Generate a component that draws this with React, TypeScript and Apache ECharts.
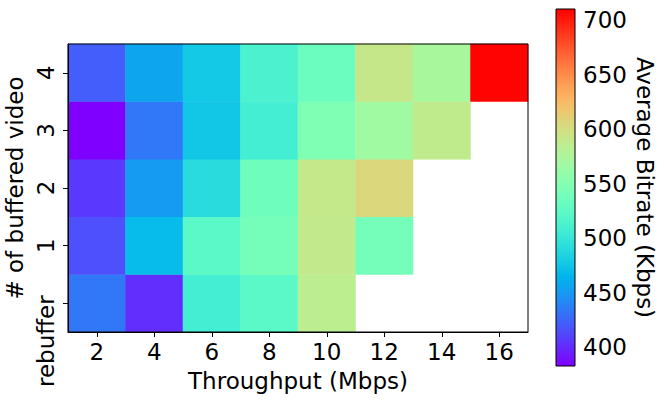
import React, { useEffect, useRef } from "react";
import * as echarts from "echarts";

const xCategories = ["2", "4", "6", "8", "10", "12", "14", "16"];
const yCategories = ["rebuffer", "1", "2", "3", "4"];

// Average bitrate (Kbps) per throughput column, one array per buffer row
const rowRebuffer = [434, 402, 508, 523, 585, null, null, null];
const row1 = [416, 469, 523, 539, 589, 539, null, null];
const row2 = [406, 451, 491, 536, 590, 605, null, null];
const row3 = [383, 434, 476, 508, 546, 567, 588, null];
const row4 = [422, 456, 478, 513, 533, 592, 572, 709];

const colorbarMin = 383;
const colorbarMax = 710;
const colorbarTicks = [400, 450, 500, 550, 600, 650, 700];

const FONT = "DejaVu Sans";
const FS = 23;

function rainbow(t: number): string {
  const r = Math.min(1, Math.abs(2 * t - 0.5));
  const g = Math.sin(Math.PI * t);
  const b = Math.cos((Math.PI * t) / 2);
  const h = (v: number) =>
    Math.round(Math.max(0, Math.min(1, v)) * 255)
      .toString(16)
      .padStart(2, "0");
  return "#" + h(r) + h(g) + h(b);
}

const N_STOPS = 41;
const rainbowColors: string[] = [];
for (let i = 0; i < N_STOPS; i++) rainbowColors.push(rainbow(i / (N_STOPS - 1)));

export default function App() {
  const ref = useRef<HTMLDivElement>(null);

  useEffect(() => {
    if (!ref.current) return;
    const chart = echarts.init(ref.current, undefined, { renderer: "svg" });

    const rows = [rowRebuffer, row1, row2, row3, row4];
    const data: [number, number, number][] = [];
    rows.forEach((row, yi) => {
      row.forEach((v, xi) => {
        if (v !== null && v !== undefined) data.push([xi, yi, v as number]);
      });
    });

    const gradientStops = rainbowColors.map((c, i) => ({
      offset: i / (rainbowColors.length - 1),
      color: c,
    }));

    const textStyle = { fontFamily: FONT, fontSize: FS, color: "#000" };

    chart.setOption({
      animation: false,
      textStyle: { fontFamily: FONT },
      grid: [
        {
          left: 68,
          top: 44,
          width: 460,
          height: 288,
          outerBoundsMode: "none",
          containLabel: false,
          show: true,
          z: 10,
          backgroundColor: "transparent",
          borderColor: "#000",
          borderWidth: 1,
        },
        {
          left: 556,
          top: 9,
          width: 19,
          height: 357,
          outerBoundsMode: "none",
          containLabel: false,
        },
      ],
      xAxis: [
        {
          type: "category",
          gridIndex: 0,
          data: xCategories,
          z: 10,
          axisLine: { show: true, lineStyle: { color: "#000", width: 1 } },
          axisTick: { show: true, alignWithLabel: true, length: 5, lineStyle: { color: "#000" } },
          axisLabel: { ...textStyle, margin: 8, interval: 0 },
          splitLine: { show: false },
          name: "Throughput (Mbps)",
          nameLocation: "middle",
          nameGap: 37,
          nameTextStyle: textStyle,
        },
        {
          type: "value",
          gridIndex: 1,
          min: 0,
          max: 1,
          show: false,
        },
      ],
      yAxis: [
        {
          type: "category",
          gridIndex: 0,
          data: yCategories,
          z: 10,
          axisLine: { show: true, lineStyle: { color: "#000", width: 1 } },
          axisTick: { show: true, alignWithLabel: true, length: 5, lineStyle: { color: "#000" } },
          axisLabel: {
            ...textStyle,
            rotate: 90,
            margin: 11,
            interval: 0,
            formatter: (v: string) => (v === "rebuffer" ? "{r|rebuffer}" : v),
            rich: {
              r: {
                fontFamily: FONT,
                fontSize: FS,
                color: "#000",
                padding: [0, 76, 0, 0],
              },
            },
          },
          splitLine: { show: false },
          name: "# of buffered video",
          nameLocation: "middle",
          nameGap: 37,
          nameRotate: 90,
          nameTextStyle: textStyle,
        },
        {
          type: "value",
          gridIndex: 1,
          position: "right",
          min: colorbarMin,
          max: colorbarMax,
          axisLine: { show: false },
          axisTick: {
            show: true,
            length: 5,
            lineStyle: { color: "#000" },
            customValues: colorbarTicks,
          },
          axisLabel: {
            ...textStyle,
            margin: 8,
            customValues: colorbarTicks,
          },
          splitLine: { show: false },
          name: "Average Bitrate (Kbps)",
          nameLocation: "middle",
          nameRotate: -90,
          nameGap: 58,
          nameTextStyle: textStyle,
        },
      ],
      visualMap: {
        show: false,
        type: "continuous",
        seriesIndex: 0,
        dimension: 2,
        min: colorbarMin,
        max: colorbarMax,
        inRange: { color: rainbowColors },
      },
      series: [
        {
          type: "heatmap",
          xAxisIndex: 0,
          yAxisIndex: 0,
          data,
          itemStyle: { borderWidth: 0 },
          emphasis: { disabled: true },
        },
        {
          type: "custom",
          xAxisIndex: 1,
          yAxisIndex: 1,
          data: [[colorbarMin, colorbarMax]],
          renderItem: (params: any, api: any) => {
            const lo = api.value(0);
            const hi = api.value(1);
            const p0 = api.coord([0, lo]);
            const p1 = api.coord([1, hi]);
            return {
              type: "rect",
              shape: {
                x: p0[0],
                y: p1[1],
                width: p1[0] - p0[0],
                height: p0[1] - p1[1],
              },
              style: {
                fill: new echarts.graphic.LinearGradient(0, 1, 0, 0, gradientStops),
                stroke: "#000",
                lineWidth: 1,
              },
            };
          },
        },
      ],
    });

    return () => chart.dispose();
  }, []);

  return (
    <div
      ref={ref}
      style={{ position: "fixed", left: 0, top: 0, width: 665, height: 400, background: "#fff" }}
    />
  );
}
